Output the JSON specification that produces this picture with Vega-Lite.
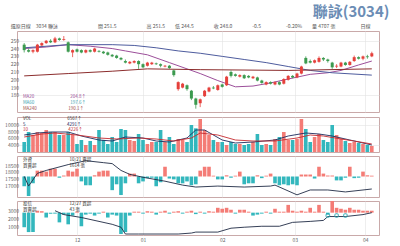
{
"$schema": "https://vega.github.io/schema/vega-lite/v6.json",
"background": "#ffffff",
"padding": {"left": 4, "right": 14, "top": 4, "bottom": 2},
"title": {"text": "聯詠(3034)", "anchor": "end", "fontSize": 15, "fontWeight": "bold", "color": "#6b8db5", "font": "Noto Sans CJK TC", "offset": 4, "dx": 10},
"config": {
  "font": "Noto Sans CJK TC",
  "view": {"stroke": "#c9a9a9", "strokeWidth": 1},
  "axis": {"labelFontSize": 5, "labelColor": "#666666", "ticks": false, "domain": false, "gridColor": "#e2e2e2", "gridWidth": 0.6, "labelPadding": 2},
  "text": {"fontSize": 5}
},
"spacing": 2,
"resolve": {"scale": {"color": "independent", "y": "independent"}},
"datasets": {
"k": [
{"i":0,"o":245,"h":247,"l":235,"c":238,"v":4900,"f":-2380,"t":-1500},
{"i":1,"o":238,"h":240,"l":235,"c":236,"v":7900,"f":-4760,"t":-2000},
{"i":2,"o":236,"h":239,"l":234,"c":238,"v":7000,"f":-1660,"t":-2000},
{"i":3,"o":236,"h":246,"l":235,"c":245,"v":7900,"f":1430,"t":200},
{"i":4,"o":244,"h":248,"l":243,"c":247,"v":7600,"f":1430,"t":150},
{"i":5,"o":247,"h":251,"l":246,"c":250,"v":8500,"f":1190,"t":-500},
{"i":6,"o":250,"h":252,"l":247,"c":248,"v":7900,"f":1900,"t":-100},
{"i":7,"o":248,"h":255,"l":247,"c":253,"v":7900,"f":1900,"t":-100},
{"i":8,"o":253,"h":254,"l":250,"c":251,"v":7000,"f":-300,"t":-1000},
{"i":9,"o":251,"h":256,"l":250,"c":252,"v":7000,"f":240,"t":-200},
{"i":10,"o":248,"h":249,"l":235,"c":236,"v":7900,"f":1430,"t":-1200},
{"i":11,"o":235,"h":239,"l":229,"c":238,"v":7000,"f":1190,"t":-300},
{"i":12,"o":239,"h":240,"l":235,"c":236,"v":4300,"f":1900,"t":100},
{"i":13,"o":238,"h":239,"l":234,"c":235,"v":5500,"f":-1190,"t":-1400},
{"i":14,"o":235,"h":239,"l":234,"c":238,"v":4000,"f":-2140,"t":-200},
{"i":15,"o":238,"h":239,"l":235,"c":236,"v":5200,"f":-2140,"t":-100},
{"i":16,"o":236,"h":241,"l":235,"c":240,"v":4000,"f":300,"t":-300},
{"i":17,"o":237,"h":238,"l":235,"c":236,"v":8500,"f":1190,"t":-100},
{"i":18,"o":236,"h":237,"l":233,"c":234,"v":5500,"f":1430,"t":100},
{"i":19,"o":235,"h":236,"l":231,"c":232,"v":4300,"f":1430,"t":-500},
{"i":20,"o":232,"h":233,"l":229,"c":230,"v":6400,"f":-3330,"t":-200},
{"i":21,"o":231,"h":232,"l":227,"c":228,"v":4900,"f":-1900,"t":-300},
{"i":22,"o":228,"h":229,"l":225,"c":226,"v":8800,"f":-4520,"t":-2200},
{"i":23,"o":224,"h":226,"l":221,"c":222,"v":8500,"f":-1660,"t":-2000},
{"i":24,"o":221,"h":224,"l":220,"c":223,"v":5500,"f":710,"t":-300},
{"i":25,"o":222,"h":225,"l":221,"c":224,"v":5200,"f":710,"t":100},
{"i":26,"o":224,"h":225,"l":214,"c":220,"v":7300,"f":-1660,"t":100},
{"i":27,"o":220,"h":221,"l":215,"c":216,"v":5500,"f":-1200,"t":-100},
{"i":28,"o":218,"h":223,"l":217,"c":222,"v":4300,"f":-400,"t":150},
{"i":29,"o":220,"h":223,"l":219,"c":222,"v":4900,"f":-300,"t":100},
{"i":30,"o":221,"h":222,"l":219,"c":220,"v":4900,"f":-2380,"t":-200},
{"i":31,"o":220,"h":221,"l":216,"c":218,"v":8500,"f":-1400,"t":100},
{"i":32,"o":217,"h":219,"l":216,"c":218,"v":4900,"f":2380,"t":200},
{"i":33,"o":218,"h":219,"l":214,"c":215,"v":6400,"f":-500,"t":-100},
{"i":34,"o":212,"h":213,"l":204,"c":206,"v":4300,"f":-700,"t":100},
{"i":35,"o":188,"h":198,"l":186,"c":197,"v":5800,"f":-1660,"t":150},
{"i":36,"o":190,"h":196,"l":189,"c":195,"v":5500,"f":-1660,"t":-100},
{"i":37,"o":193,"h":194,"l":186,"c":188,"v":4900,"f":-1200,"t":100},
{"i":38,"o":186,"h":187,"l":174,"c":176,"v":10000,"f":-2140,"t":200},
{"i":39,"o":176,"h":177,"l":163,"c":168,"v":9000,"f":-1900,"t":-150},
{"i":40,"o":170,"h":176,"l":165,"c":175,"v":11800,"f":1430,"t":100},
{"i":41,"o":179,"h":187,"l":178,"c":186,"v":8500,"f":2380,"t":-100},
{"i":42,"o":185,"h":191,"l":184,"c":190,"v":7000,"f":2380,"t":150},
{"i":43,"o":190,"h":192,"l":188,"c":189,"v":5500,"f":200,"t":100},
{"i":44,"o":187,"h":194,"l":186,"c":193,"v":4900,"f":-700,"t":500},
{"i":45,"o":194,"h":195,"l":190,"c":191,"v":4900,"f":-700,"t":400},
{"i":46,"o":193,"h":205,"l":192,"c":204,"v":4000,"f":300,"t":500},
{"i":47,"o":210,"h":212,"l":203,"c":205,"v":4900,"f":-300,"t":300},
{"i":48,"o":207,"h":208,"l":204,"c":205,"v":4300,"f":200,"t":-100},
{"i":49,"o":204,"h":207,"l":203,"c":206,"v":4300,"f":1190,"t":300},
{"i":50,"o":206,"h":207,"l":201,"c":202,"v":4000,"f":-1900,"t":300},
{"i":51,"o":205,"h":206,"l":202,"c":203,"v":4300,"f":-1660,"t":100},
{"i":52,"o":202,"h":205,"l":201,"c":204,"v":4900,"f":-1660,"t":-300},
{"i":53,"o":203,"h":204,"l":198,"c":199,"v":7300,"f":300,"t":-200},
{"i":54,"o":199,"h":200,"l":195,"c":196,"v":4000,"f":-400,"t":-100},
{"i":55,"o":194,"h":198,"l":193,"c":197,"v":4300,"f":200,"t":100},
{"i":56,"o":197,"h":198,"l":194,"c":195,"v":4000,"f":710,"t":-100},
{"i":57,"o":194,"h":198,"l":193,"c":197,"v":5800,"f":-1660,"t":400},
{"i":58,"o":197,"h":198,"l":193,"c":194,"v":6400,"f":-2140,"t":100},
{"i":59,"o":195,"h":202,"l":194,"c":201,"v":7900,"f":-1900,"t":100},
{"i":60,"o":200,"h":206,"l":199,"c":205,"v":5500,"f":-2140,"t":800},
{"i":61,"o":205,"h":206,"l":202,"c":203,"v":5500,"f":-1900,"t":200},
{"i":62,"o":203,"h":209,"l":202,"c":208,"v":5800,"f":-2140,"t":100},
{"i":63,"o":208,"h":218,"l":207,"c":217,"v":11800,"f":480,"t":200},
{"i":64,"o":228,"h":230,"l":220,"c":221,"v":8800,"f":480,"t":100},
{"i":65,"o":224,"h":226,"l":221,"c":222,"v":4900,"f":480,"t":500},
{"i":66,"o":222,"h":226,"l":221,"c":225,"v":6400,"f":-500,"t":100},
{"i":67,"o":223,"h":230,"l":222,"c":228,"v":7300,"f":2380,"t":800},
{"i":68,"o":228,"h":229,"l":224,"c":226,"v":5500,"f":710,"t":100},
{"i":69,"o":226,"h":227,"l":222,"c":224,"v":4900,"f":240,"t":-200},
{"i":70,"o":222,"h":223,"l":214,"c":216,"v":10000,"f":240,"t":1300},
{"i":71,"o":217,"h":220,"l":215,"c":218,"v":7000,"f":-950,"t":500},
{"i":72,"o":217,"h":223,"l":216,"c":222,"v":6000,"f":-950,"t":400},
{"i":73,"o":222,"h":223,"l":218,"c":219,"v":5200,"f":-300,"t":300},
{"i":74,"o":219,"h":224,"l":218,"c":223,"v":4600,"f":2380,"t":500},
{"i":75,"o":224,"h":231,"l":223,"c":229,"v":4900,"f":-400,"t":300},
{"i":76,"o":229,"h":230,"l":226,"c":227,"v":4600,"f":-300,"t":300},
{"i":77,"o":227,"h":231,"l":225,"c":230,"v":4300,"f":1190,"t":200},
{"i":78,"o":230,"h":232,"l":227,"c":229,"v":4000,"f":300,"t":200},
{"i":79,"o":230,"h":236,"l":229,"c":234,"v":3700,"f":200,"t":200}
],
"ma": [
{"i":0,"s":"MA20","p":240},{"i":5,"s":"MA20","p":242},{"i":10,"s":"MA20","p":245},{"i":15,"s":"MA20","p":243},{"i":20,"s":"MA20","p":240},{"i":23,"s":"MA20","p":237},{"i":28,"s":"MA20","p":232},{"i":33,"s":"MA20","p":222},{"i":37,"s":"MA20","p":214},{"i":40,"s":"MA20","p":208},{"i":44,"s":"MA20","p":199},{"i":48,"s":"MA20","p":191},{"i":52,"s":"MA20","p":192},{"i":56,"s":"MA20","p":196},{"i":60,"s":"MA20","p":201},{"i":65,"s":"MA20","p":207},{"i":69,"s":"MA20","p":209},{"i":72,"s":"MA20","p":212},{"i":76,"s":"MA20","p":219},{"i":79,"s":"MA20","p":224},
{"i":0,"s":"MA60","p":241},{"i":10,"s":"MA60","p":245},{"i":20,"s":"MA60","p":245},{"i":25,"s":"MA60","p":244},{"i":30,"s":"MA60","p":241},{"i":35,"s":"MA60","p":237},{"i":40,"s":"MA60","p":234},{"i":45,"s":"MA60","p":230},{"i":50,"s":"MA60","p":226},{"i":55,"s":"MA60","p":222},{"i":60,"s":"MA60","p":217},{"i":65,"s":"MA60","p":212},{"i":70,"s":"MA60","p":209},{"i":79,"s":"MA60","p":206},
{"i":0,"s":"MA240","p":205},{"i":10,"s":"MA240","p":208},{"i":20,"s":"MA240","p":211},{"i":28,"s":"MA240","p":214},{"i":40,"s":"MA240","p":213},{"i":60,"s":"MA240","p":212},{"i":79,"s":"MA240","p":214}
],
"vma": [
{"i":0,"s":"V5","v":7000},{"i":3,"s":"V5","v":7600},{"i":6,"s":"V5","v":7900},{"i":10,"s":"V5","v":7900},{"i":13,"s":"V5","v":6700},{"i":17,"s":"V5","v":5500},{"i":20,"s":"V5","v":5200},{"i":23,"s":"V5","v":6400},{"i":27,"s":"V5","v":6100},{"i":30,"s":"V5","v":5200},{"i":33,"s":"V5","v":4900},{"i":37,"s":"V5","v":6100},{"i":39,"s":"V5","v":8500},{"i":41,"s":"V5","v":8500},{"i":45,"s":"V5","v":5500},{"i":48,"s":"V5","v":4600},{"i":52,"s":"V5","v":4900},{"i":57,"s":"V5","v":5500},{"i":60,"s":"V5","v":6700},{"i":64,"s":"V5","v":7600},{"i":67,"s":"V5","v":7300},{"i":70,"s":"V5","v":6700},{"i":74,"s":"V5","v":5500},{"i":77,"s":"V5","v":4600},{"i":79,"s":"V5","v":4000},
{"i":0,"s":"V10","v":6400},{"i":4,"s":"V10","v":7300},{"i":7,"s":"V10","v":7600},{"i":12,"s":"V10","v":7000},{"i":17,"s":"V10","v":6100},{"i":21,"s":"V10","v":5800},{"i":26,"s":"V10","v":6100},{"i":30,"s":"V10","v":5800},{"i":34,"s":"V10","v":5200},{"i":38,"s":"V10","v":6100},{"i":40,"s":"V10","v":7600},{"i":44,"s":"V10","v":7000},{"i":48,"s":"V10","v":5500},{"i":52,"s":"V10","v":5200},{"i":57,"s":"V10","v":5200},{"i":62,"s":"V10","v":6100},{"i":65,"s":"V10","v":7000},{"i":68,"s":"V10","v":6700},{"i":72,"s":"V10","v":5800},{"i":75,"s":"V10","v":5200},{"i":79,"s":"V10","v":4300}
],
"fl": [
{"i":0,"v":17714},{"i":1,"v":17000},{"i":3,"v":17929},{"i":5,"v":18143},{"i":10,"v":18571},{"i":14,"v":18857},{"i":18,"v":18714},{"i":20,"v":18643},{"i":22,"v":18143},{"i":24,"v":17857},{"i":27,"v":17643},{"i":32,"v":17357},{"i":36,"v":17071},{"i":39,"v":16929},{"i":44,"v":17000},{"i":50,"v":16929},{"i":56,"v":17000},{"i":57,"v":17071},{"i":62,"v":16357},{"i":65,"v":16714},{"i":69,"v":16714},{"i":73,"v":16571},{"i":77,"v":16714},{"i":79,"v":16786}
],
"tl": [
{"i":7,"v":3000},{"i":9,"v":2520},{"i":13,"v":2160},{"i":17,"v":1680},{"i":20,"v":1320},{"i":22,"v":960},{"i":23,"v":120},{"i":26,"v":120},{"i":35,"v":120},{"i":38,"v":240},{"i":39,"v":360},{"i":44,"v":360},{"i":47,"v":840},{"i":50,"v":960},{"i":54,"v":1080},{"i":58,"v":1080},{"i":61,"v":1560},{"i":65,"v":1680},{"i":68,"v":1800},{"i":69,"v":2280},{"i":73,"v":2280},{"i":77,"v":2520},{"i":79,"v":2760}
],
"tm": [{"i":69,"v":2400},{"i":71,"v":2400},{"i":73,"v":2400}],
"yt1": [{"v":180},{"v":190},{"v":200},{"v":210},{"v":220},{"v":230},{"v":240},{"v":250}],
"yt2": [{"v":4000},{"v":6000},{"v":8000},{"v":10000}],
"yt3": [{"v":17000},{"v":17500},{"v":18000},{"v":18500}],
"yt4": [{"v":1000},{"v":2000},{"v":3000}]
},
"vconcat": [
{
  "width": 362, "height": 81,
  "title": {"text": "還原日線　3034 聯詠　　　　　　　　開 251.5　　　　　　高 251.5　　低 244.5　　　　收 248.0　　　　-0.5　　　　　-0.20%　　量 4707 張　　　　　日線", "anchor": "start", "frame": "bounds", "fontSize": 5, "color": "#555555", "offset": 2, "fontWeight": "normal"},
  "layer": [
    {"data": {"name": "ma"}, "mark": {"type": "line", "strokeWidth": 1, "clip": true},
     "encoding": {
       "x": {"field": "i", "type": "quantitative", "scale": {"domain": [-0.5, 79.5], "nice": false, "zero": false}, "axis": {"values": [12, 27, 45, 61.5, 77.5], "labels": false, "grid": true, "title": null}},
       "y": {"field": "p", "type": "quantitative", "scale": {"domain": [158.75, 262.5], "nice": false, "zero": false}, "axis": {"values": [180, 190, 200, 210, 220, 230, 240, 250], "labels": false, "title": null}},
       "color": {"field": "s", "type": "nominal", "scale": {"domain": ["MA20", "MA60", "MA240"], "range": ["#9c4f9a", "#4e5c9e", "#8c2d2d"]}, "legend": null}}},
    {"data": {"name": "k"}, "mark": {"type": "rule", "strokeWidth": 0.8},
     "encoding": {
       "x": {"field": "i", "type": "quantitative"},
       "y": {"field": "l", "type": "quantitative"},
       "y2": {"field": "h"},
       "color": {"condition": {"test": "datum.c >= datum.o", "value": "#e5403b"}, "value": "#3c9a4f"}}},
    {"data": {"name": "k"}, "mark": {"type": "bar", "size": 3},
     "encoding": {
       "x": {"field": "i", "type": "quantitative"},
       "y": {"field": "o", "type": "quantitative"},
       "y2": {"field": "c"},
       "color": {"condition": {"test": "datum.c >= datum.o", "value": "#e5403b"}, "value": "#3c9a4f"}}},
    {"data": {"name": "yt1"}, "mark": {"type": "text", "align": "right", "baseline": "middle", "dx": -3, "fontSize": 5, "color": "#666666"},
     "encoding": {"x": {"datum": -0.5, "type": "quantitative"}, "y": {"field": "v", "type": "quantitative"}, "text": {"field": "v", "type": "quantitative", "format": "d"}}},
    {"data": {"values": [{}]}, "mark": {"type": "text", "align": "left", "baseline": "middle", "fontSize": 4.5, "color": "#9c4f9a"},
     "encoding": {"x": {"datum": -0.3, "type": "quantitative"}, "y": {"datum": 178.5, "type": "quantitative"}, "text": {"value": "MA20　　　　　　　　204.8↑"}}},
    {"data": {"values": [{}]}, "mark": {"type": "text", "align": "left", "baseline": "middle", "fontSize": 4.5, "color": "#3a9fb0"},
     "encoding": {"x": {"datum": -0.3, "type": "quantitative"}, "y": {"datum": 170.5, "type": "quantitative"}, "text": {"value": "MA60　　　　　　　　197.6↑"}}},
    {"data": {"values": [{}]}, "mark": {"type": "text", "align": "left", "baseline": "middle", "fontSize": 4.5, "color": "#a0504a"},
     "encoding": {"x": {"datum": -0.3, "type": "quantitative"}, "y": {"datum": 162.5, "type": "quantitative"}, "text": {"value": "MA240　　　　　　　190.1↑"}}}
  ]
},
{
  "width": 362, "height": 35,
  "layer": [
    {"data": {"name": "k"}, "mark": {"type": "bar", "size": 3.6, "clip": true},
     "encoding": {
       "x": {"field": "i", "type": "quantitative", "scale": {"domain": [-0.5, 79.5], "nice": false, "zero": false}, "axis": {"values": [12, 27, 45, 61.5, 77.5], "labels": false, "grid": true, "title": null}},
       "y": {"field": "v", "type": "quantitative", "scale": {"domain": [1900, 12400], "nice": false, "zero": false}, "axis": {"values": [4000, 6000, 8000, 10000], "labels": false, "title": null}},
       "y2": {"datum": 1900},
       "color": {"condition": {"test": "datum.c >= datum.o", "value": "#f47c76"}, "value": "#33b7bd"}}},
    {"data": {"name": "vma"}, "mark": {"type": "line", "strokeWidth": 0.9},
     "encoding": {
       "x": {"field": "i", "type": "quantitative"},
       "y": {"field": "v", "type": "quantitative"},
       "color": {"field": "s", "type": "nominal", "scale": {"domain": ["V5", "V10"], "range": ["#1d2a5c", "#c52b30"]}, "legend": null}}},
    {"data": {"name": "yt2"}, "mark": {"type": "text", "align": "right", "baseline": "middle", "dx": -3, "fontSize": 5, "color": "#666666"},
     "encoding": {"x": {"datum": -0.5, "type": "quantitative"}, "y": {"field": "v", "type": "quantitative"}, "text": {"field": "v", "type": "quantitative", "format": "d"}}},
    {"data": {"values": [{}]}, "mark": {"type": "text", "align": "left", "baseline": "middle", "fontSize": 4.5, "color": "#333333"},
     "encoding": {"x": {"datum": -0.3, "type": "quantitative"}, "y": {"datum": 11700, "type": "quantitative"}, "text": {"value": "VOL　　　　　　　　6567↑"}}},
    {"data": {"values": [{}]}, "mark": {"type": "text", "align": "left", "baseline": "middle", "fontSize": 4.5, "color": "#1d2a5c"},
     "encoding": {"x": {"datum": -0.3, "type": "quantitative"}, "y": {"datum": 10150, "type": "quantitative"}, "text": {"value": "5　　　　　　　　　 4291↑"}}},
    {"data": {"values": [{}]}, "mark": {"type": "text", "align": "left", "baseline": "middle", "fontSize": 4.5, "color": "#c52b30"},
     "encoding": {"x": {"datum": -0.3, "type": "quantitative"}, "y": {"datum": 8600, "type": "quantitative"}, "text": {"value": "10　　　　　　　　　4226↑"}}}
  ]
},
{
  "width": 362, "height": 41,
  "layer": [
    {"data": {"name": "k"}, "mark": {"type": "bar", "size": 3.6, "clip": true},
     "encoding": {
       "x": {"field": "i", "type": "quantitative", "scale": {"domain": [-0.5, 79.5], "nice": false, "zero": false}, "axis": {"values": [12, 27, 45, 61.5, 77.5], "labels": false, "grid": true, "title": null}},
       "y": {"field": "f", "type": "quantitative", "scale": {"domain": [-5000, 5000], "nice": false}, "axis": null},
       "color": {"condition": {"test": "datum.f >= 0", "value": "#f47c76"}, "value": "#33b7bd"}}},
    {"layer": [
      {"data": {"name": "fl"}, "mark": {"type": "line", "color": "#1f2a44", "strokeWidth": 0.9, "clip": true},
       "encoding": {
         "x": {"field": "i", "type": "quantitative"},
         "y": {"field": "v", "type": "quantitative", "scale": {"domain": [16200, 19200], "nice": false, "zero": false}, "axis": {"values": [17000, 17500, 18000, 18500], "labels": false, "title": null}}}},
      {"data": {"name": "yt3"}, "mark": {"type": "text", "align": "right", "baseline": "middle", "dx": -3, "fontSize": 5, "color": "#666666"},
       "encoding": {"x": {"datum": -0.5, "type": "quantitative"}, "y": {"field": "v", "type": "quantitative"}, "text": {"field": "v", "type": "quantitative", "format": "d"}}},
      {"data": {"values": [{}]}, "mark": {"type": "text", "align": "left", "baseline": "top", "fontSize": 4.5, "lineHeight": 6, "color": "#333333"},
       "encoding": {"x": {"datum": -0.3, "type": "quantitative"}, "y": {"datum": 19150, "type": "quantitative"}, "text": {"value": ["外資", "買賣超"]}}},
      {"data": {"values": [{}]}, "mark": {"type": "text", "align": "left", "baseline": "top", "fontSize": 4.5, "lineHeight": 6, "color": "#333333"},
       "encoding": {"x": {"datum": 10.3, "type": "quantitative"}, "y": {"datum": 19150, "type": "quantitative"}, "text": {"value": ["10/21 賣超", "1614 張"]}}}
    ]}
  ],
  "resolve": {"scale": {"y": "independent"}}
},
{
  "width": 362, "height": 34,
  "layer": [
    {"data": {"name": "k"}, "mark": {"type": "bar", "size": 3.6, "clip": true},
     "encoding": {
       "x": {"field": "i", "type": "quantitative", "scale": {"domain": [-0.5, 79.5], "nice": false, "zero": false}, "axis": {"values": [12, 27, 45, 61.5, 77.5], "labels": true, "grid": true, "title": null, "labelExpr": "datum.value < 20 ? '12' : datum.value < 30 ? '01' : datum.value < 50 ? '02' : datum.value < 70 ? '03' : '04'"}},
       "y": {"field": "t", "type": "quantitative", "scale": {"domain": [-2300, 1200], "nice": false}, "axis": null},
       "color": {"condition": {"test": "datum.t >= 0", "value": "#f47c76"}, "value": "#33b7bd"}}},
    {"layer": [
      {"data": {"name": "tl"}, "mark": {"type": "line", "color": "#1f2a44", "strokeWidth": 0.9, "clip": true},
       "encoding": {
         "x": {"field": "i", "type": "quantitative"},
         "y": {"field": "v", "type": "quantitative", "scale": {"domain": [0, 4200], "nice": false}, "axis": {"values": [1000, 2000, 3000], "labels": false, "title": null}}}},
      {"data": {"name": "tm"}, "mark": {"type": "point", "filled": false, "size": 14, "color": "#2aa9b3", "strokeWidth": 1.2},
       "encoding": {
         "x": {"field": "i", "type": "quantitative"},
         "y": {"field": "v", "type": "quantitative"}}},
      {"data": {"name": "yt4"}, "mark": {"type": "text", "align": "right", "baseline": "middle", "dx": -3, "fontSize": 5, "color": "#666666"},
       "encoding": {"x": {"datum": -0.5, "type": "quantitative"}, "y": {"field": "v", "type": "quantitative"}, "text": {"field": "v", "type": "quantitative", "format": "d"}}},
      {"data": {"values": [{}]}, "mark": {"type": "text", "align": "left", "baseline": "top", "fontSize": 4.5, "lineHeight": 6, "color": "#333333"},
       "encoding": {"x": {"datum": -0.3, "type": "quantitative"}, "y": {"datum": 4150, "type": "quantitative"}, "text": {"value": ["投信", "買賣超"]}}},
      {"data": {"values": [{}]}, "mark": {"type": "text", "align": "left", "baseline": "top", "fontSize": 4.5, "lineHeight": 6, "color": "#333333"},
       "encoding": {"x": {"datum": 10.3, "type": "quantitative"}, "y": {"datum": 4150, "type": "quantitative"}, "text": {"value": ["12/27 買超", "43 張"]}}}
    ]}
  ],
  "resolve": {"scale": {"y": "independent"}}
}
]
}
